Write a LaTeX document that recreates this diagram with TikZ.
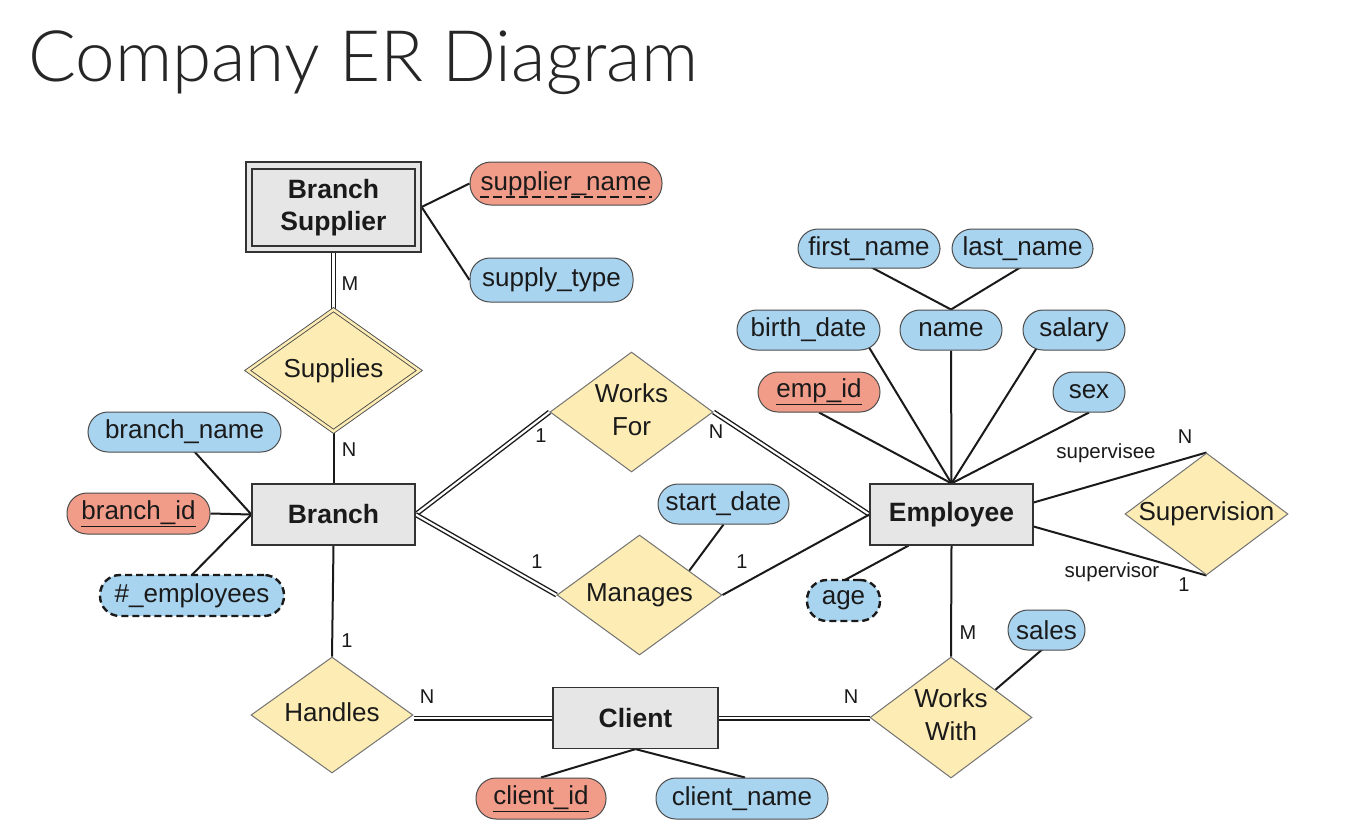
\documentclass[tikz,border=0pt]{standalone}
\usepackage{fontspec}
\setmainfont{Liberation Sans}
\newfontfamily\titlefont{Lato Light}
\usetikzlibrary{shapes.geometric,backgrounds}

\definecolor{attrblue}{HTML}{A9D4F0}
\definecolor{keyred}{HTML}{F19B89}
\definecolor{relyellow}{HTML}{FDECB3}
\definecolor{entgray}{HTML}{E6E6E6}
\definecolor{ink}{HTML}{1A1A1A}

% relationship label that does not widen its diamond
\newcommand{\rtext}[1]{\makebox[0pt]{\begin{tabular}{@{}c@{}}#1\end{tabular}}}

\tikzset{
  entity/.style={rectangle, draw=black!80, fill=entgray, line width=1.2pt,
    inner sep=0pt, align=center, text=ink,
    font=\bfseries\fontsize{26.5}{32}\selectfont},
  attr/.style={rectangle, rounded corners=20pt, draw=black!70, fill=attrblue,
    line width=1pt, inner sep=0pt, text=ink,
    font=\fontsize{26}{30}\selectfont},
  keyattr/.style={attr, fill=keyred},
  derived/.style={attr, line width=2.4pt, draw=ink, dash pattern=on 7pt off 4pt},
  rel/.style={diamond, draw=black!55, fill=relyellow, line width=1pt,
    inner sep=0pt, text=ink, font=\fontsize{26}{33}\selectfont},
  link/.style={draw=ink, line width=2pt},
  total/.style={draw=ink, line width=1.4pt, double=white, double distance=2.2pt},
  card/.style={text=ink, inner sep=0pt, font=\fontsize{20}{24}\selectfont},
  role/.style={text=ink, inner sep=0pt, font=\fontsize{20.5}{24}\selectfont},
}

\begin{document}
\begin{tikzpicture}[x=1pt, y=-1pt]
\path[use as bounding box] (0,0) rectangle (1362,836);

% title
\node[anchor=base west, inner sep=0pt, text=black!85,
  font=\titlefont\fontsize{71}{80}\selectfont] (title) at (28,81) {Company ER Diagram};

% entities
\node[entity, minimum width=175pt, minimum height=90pt] (bsupouter) at (333.5,207) {};
\node[entity, minimum width=163pt, minimum height=77pt] (bsup) at (333.5,207.5) {Branch\\Supplier};
\node[entity, minimum width=163pt, minimum height=61pt] (branch) at (333.5,514.5) {Branch};
\node[entity, minimum width=163pt, minimum height=61pt] (emp) at (951.5,514.5) {Employee};
\node[entity, minimum width=165pt, minimum height=61pt] (client) at (635.5,718) {Client};

% relationships
\node[rel, draw=black!70, double=relyellow, double distance=2.5pt, line width=0.9pt,
  minimum width=172pt, minimum height=122pt] (supplies) at (333.5,370.5) {\rtext{Supplies}};
\node[rel, minimum width=163pt, minimum height=120pt] (worksfor) at (631.5,412) {\rtext{Works\\For}};
\node[rel, minimum width=165pt, minimum height=120pt] (manages) at (639.5,595) {\rtext{Manages}};
\node[rel, minimum width=163pt, minimum height=122pt] (supervision) at (1206.5,514) {\rtext{Supervision}};
\node[rel, minimum width=162pt, minimum height=116pt] (handles) at (332,715) {\rtext{Handles}};
\node[rel, minimum width=162pt, minimum height=121pt] (workswith) at (951,717.5) {\rtext{Works\\With}};

% attributes
\node[keyattr, rounded corners=21pt, minimum width=192pt, minimum height=43pt] (sname) at (566,183.5) {supplier\_name};
\draw[ink, line width=2.4pt, dash pattern=on 9pt off 4pt]
  ([xshift=-86pt, yshift=-7pt]sname.base) -- ([xshift=86pt, yshift=-7pt]sname.base);
\node[attr, minimum width=163pt, minimum height=44pt] (stype) at (551.5,280) {supply\_type};
\node[attr, minimum width=193pt, minimum height=40pt] (bname) at (184.5,432) {branch\_name};
\node[keyattr, minimum width=143pt, minimum height=41pt] (bid) at (138.5,513.5) {\underline{branch\_id}};
\node[derived, minimum width=184pt, minimum height=41pt] (empl) at (192,595.5) {\#\_employees};
\node[attr, minimum width=131pt, minimum height=40pt] (sdate) at (723.5,504) {start\_date};
\node[attr, minimum width=142pt, minimum height=39pt] (fname) at (869,248.5) {first\_name};
\node[attr, minimum width=141pt, minimum height=39pt] (lname) at (1022.5,248.5) {last\_name};
\node[attr, minimum width=143pt, minimum height=40pt] (bdate) at (808.5,330) {birth\_date};
\node[attr, minimum width=102pt, minimum height=40pt] (name) at (951,330) {name};
\node[attr, minimum width=102pt, minimum height=40pt] (salary) at (1074,330) {salary};
\node[keyattr, minimum width=122pt, minimum height=40pt] (empid) at (819,392) {\underline{emp\_id}};
\node[attr, minimum width=72pt, minimum height=40pt] (sex) at (1089,392) {sex};
\node[derived, minimum width=73pt, minimum height=41pt] (age) at (843.5,600.5) {age};
\node[attr, minimum width=77pt, minimum height=40pt] (sales) at (1046.5,630) {sales};
\node[keyattr, minimum width=130pt, minimum height=41pt] (cid) at (541,798.5) {\underline{client\_id}};
\node[attr, minimum width=172pt, minimum height=41pt] (cname) at (742,798.5) {client\_name};

% cardinalities and roles
\node[card] (cM1) at (350,284) {M};
\node[card] (cN1) at (349,450) {N};
\node[card] (c1wf) at (541,436) {1};
\node[card] (cNwf) at (716,432) {N};
\node[card] (c1mb) at (537,562) {1};
\node[card] (c1me) at (742,562) {1};
\node[card] (c1h) at (347,641) {1};
\node[card] (cNh) at (427,697) {N};
\node[card] (cNw) at (851,697) {N};
\node[card] (cMw) at (968,633) {M};
\node[card] (cNs) at (1185,437) {N};
\node[card] (c1s) at (1184,585) {1};
\node[role] (rsee) at (1106,453) {supervisee};
\node[role] (rsor) at (1112,572) {supervisor};

% connectors, kept behind the shapes
\begin{pgfonlayer}{background}
\fill[white] (0,0) rectangle (1362,836);
% branch supplier
\draw[link] (bsupouter.east) -- (sname.west);
\draw[link] (bsupouter.east) -- (stype.west);
\draw[total] (bsupouter.south) -- (supplies.north);
\draw[link] (supplies.south) -- (branch.north);
% branch
\draw[link] (branch.west) -- ([xshift=8pt, yshift=3pt]bname.south);
\draw[link] (branch.west) -- (bid.east);
\draw[link] (branch.west) -- ([xshift=-2pt, yshift=-3pt]empl.north);
\draw[total] (branch.east) -- (worksfor.west);
\draw[total] (branch.east) -- (manages.west);
\draw[link] (branch.south) -- (handles.north);
% employee
\draw[total] (worksfor.east) -- (emp.west);
\draw[link] (manages.east) -- (emp.west);
\draw[link] (sdate.south) -- (manages.26);
\draw[link] ([xshift=-1pt, yshift=3pt]fname.south) -- (name.north);
\draw[link] ([xshift=1pt, yshift=3pt]lname.south) -- (name.north);
\draw[link] ([xshift=60pt, yshift=4pt]bdate.south) -- (emp.north);
\draw[link] (name.south) -- (emp.north);
\draw[link] ([xshift=-37pt, yshift=3pt]salary.south) -- (emp.north);
\draw[link] (empid.south) -- (emp.north);
\draw[link] (sex.south) -- (emp.north);
\draw[link] ([yshift=12pt]emp.east) -- (supervision.north);
\draw[link] ([yshift=-12pt]emp.east) -- (supervision.south);
\draw[link] ([xshift=-2pt, yshift=-3pt]age.north) -- ([xshift=-43pt]emp.south);
\draw[link] (emp.south) -- (workswith.north);
\draw[link] ([xshift=-2pt, yshift=3pt]sales.south) -- (workswith.32);
% client
\draw[total] (client.west -| handles.east) -- (client.west);
\draw[total] (client.east) -- (client.east -| workswith.west);
\draw[link] (client.south) -- (cid.north);
\draw[link] (client.south) -- ([xshift=3pt]cname.north);
\end{pgfonlayer}
\end{tikzpicture}
\end{document}
